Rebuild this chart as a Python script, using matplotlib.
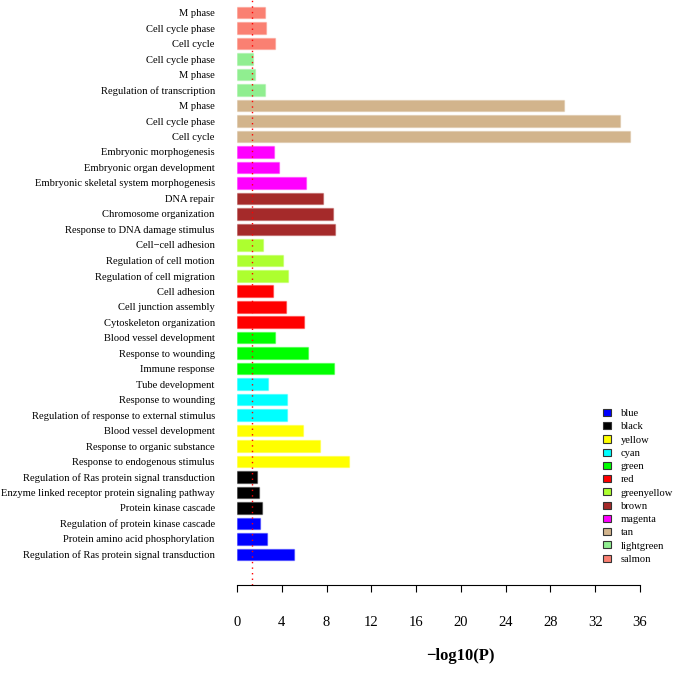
import matplotlib

matplotlib.use("Agg")
import matplotlib.pyplot as plt
from matplotlib.patches import Patch

# bottom to top, three terms per module
terms = [
    "Regulation of Ras protein signal transduction",
    "Protein amino acid phosphorylation",
    "Regulation of protein kinase cascade",
    "Protein kinase cascade",
    "Enzyme linked receptor protein signaling pathway",
    "Regulation of Ras protein signal transduction",
    "Response to endogenous stimulus",
    "Response to organic substance",
    "Blood vessel development",
    "Regulation of response to external stimulus",
    "Response to wounding",
    "Tube development",
    "Immune response",
    "Response to wounding",
    "Blood vessel development",
    "Cytoskeleton organization",
    "Cell junction assembly",
    "Cell adhesion",
    "Regulation of cell migration",
    "Regulation of cell motion",
    "Cell\u2212cell adhesion",
    "Response to DNA damage stimulus",
    "Chromosome organization",
    "DNA repair",
    "Embryonic skeletal system morphogenesis",
    "Embryonic organ development",
    "Embryonic morphogenesis",
    "Cell cycle",
    "Cell cycle phase",
    "M phase",
    "Regulation of transcription",
    "M phase",
    "Cell cycle phase",
    "Cell cycle",
    "Cell cycle phase",
    "M phase",
]
neg_log_p = [
    5.12, 2.71, 2.08,
    2.20, 1.99, 1.81,
    10.03, 7.41, 5.86,
    4.49, 4.43, 2.77,
    8.63, 6.31, 3.39,
    5.95, 4.40, 3.24,
    4.58, 4.13, 2.35,
    8.72, 8.60, 7.71,
    6.13, 3.78, 3.33,
    35.1, 34.2, 29.2,
    2.50, 1.64, 1.40,
    3.36, 2.59, 2.53,
]
modules = ["blue", "black", "yellow", "cyan", "green", "red", "greenyellow",
           "brown", "magenta", "tan", "lightgreen", "salmon"]
module_colors = {
    "blue": "#0000FF", "black": "#000000", "yellow": "#FFFF00",
    "cyan": "#00FFFF", "green": "#00FF00", "red": "#FF0000",
    "greenyellow": "#ADFF2F", "brown": "#A52A2A", "magenta": "#FF00FF",
    "tan": "#D2B48C", "lightgreen": "#90EE90", "salmon": "#FA8072",
}
x_ticks = [0, 4, 8, 12, 16, 20, 24, 28, 32, 36]
cutoff = 1.3  # -log10(0.05)

plt.rcParams["font.family"] = ["Liberation Serif", "DejaVu Serif"]

fig = plt.figure(figsize=(6.75, 6.74), dpi=100)
ax = fig.add_axes([237 / 675, 89 / 674, 403 / 675, 585 / 674])

bar_colors = [module_colors[m] for m in modules for _ in range(3)]
positions = list(range(len(terms)))
ax.barh(positions, neg_log_p, height=0.75, color=bar_colors,
        edgecolor=[c + "55" for c in bar_colors], linewidth=1.0)
ax.axvline(cutoff, color="red", linestyle=(0, (1, 3)), linewidth=1.0)

ax.set_xlim(0, 36)
ax.set_ylim(-1.98, 35.82)
ax.set_yticks(positions)
ax.set_yticklabels(terms, fontsize=7.55)
ax.tick_params(axis="y", length=0, pad=16)
ax.set_xticks(x_ticks)
ax.tick_params(axis="x", length=5, width=0.8, pad=17, labelsize=10.5)
for side in ["top", "right", "left"]:
    ax.spines[side].set_visible(False)
ax.spines["bottom"].set_linewidth(0.8)

fig.text(460 / 675, 10 / 674, "\u2212log10(P)", ha="center", va="bottom",
         fontsize=12, fontweight="bold")

handles = [Patch(facecolor=module_colors[m], edgecolor="#333333", linewidth=0.8)
           for m in modules]
fig.legend(handles, modules, loc="upper left",
           bbox_to_anchor=(603 / 675, 1 - 409 / 674), frameon=False,
           fontsize=7.6, handlelength=0.8, handleheight=0.65,
           handletextpad=0.9, labelspacing=0.38, borderpad=0,
           borderaxespad=0)

fig.savefig("out.png", dpi=100)
